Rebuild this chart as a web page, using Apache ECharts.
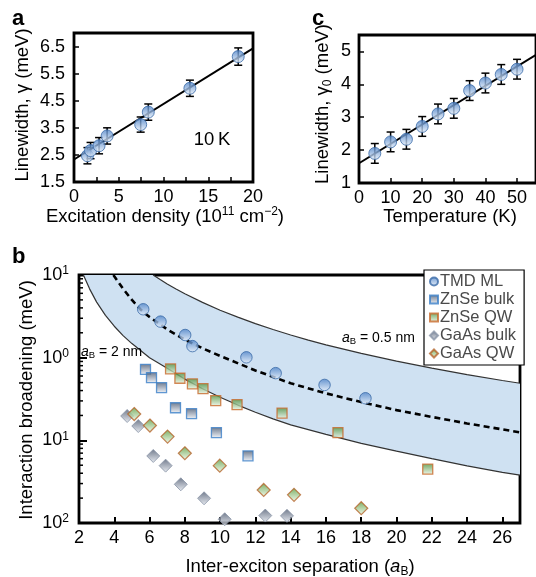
<!DOCTYPE html>
<html><head><meta charset="utf-8">
<script src="https://cdn.jsdelivr.net/npm/echarts@6/dist/echarts.min.js"></script>
<style>html,body{margin:0;padding:0;background:#fff}#c{width:536px;height:577px}</style>
</head><body><div id="c"></div>
<script>
// ---------- Panel a ----------
const densityA = [1.5, 1.85, 2.8, 3.7, 7.45, 8.3, 12.95, 18.35];
const linewidthA = [2.47, 2.66, 2.84, 3.2, 3.62, 4.08, 4.96, 6.13];
const errA = [0.3, 0.3, 0.3, 0.3, 0.28, 0.3, 0.3, 0.32];
const fitAx = [0, 20];
const fitAy = [2.33, 6.43];
const ticksAy = [1.5, 2.5, 3.5, 4.5, 5.5, 6.5];

// ---------- Panel c ----------
const tempC = [5, 10, 15, 20, 25, 30, 35, 40, 45, 50];
const linewidthC = [1.9, 2.25, 2.33, 2.72, 3.1, 3.27, 3.81, 4.04, 4.3, 4.46];
const errC = [0.3, 0.3, 0.3, 0.3, 0.3, 0.3, 0.3, 0.3, 0.3, 0.3];
const fitCx = [0, 56];
const fitCy = [1.6, 4.9];

// ---------- Panel b ----------
const tmdX = [5.64, 6.62, 8.02, 8.43, 11.49, 13.15, 15.92, 18.24];
const tmdY = [3.85, 2.73, 1.88, 1.38, 1.01, 0.65, 0.468, 0.323];
const znseBulkX = [5.77, 6.11, 6.68, 7.47, 8.38, 9.79, 11.58];
const znseBulkY = [0.72, 0.573, 0.434, 0.248, 0.21, 0.124, 0.0647];
const znseQwX = [7.19, 7.72, 8.43, 9.03, 9.75, 10.96, 13.51, 16.68, 21.77];
const znseQwY = [0.73, 0.564, 0.481, 0.422, 0.302, 0.27, 0.213, 0.124, 0.0448];
const gaasBulkX = [4.73, 5.36, 6.21, 6.91, 7.77, 9.09, 10.26, 12.56, 13.79];
const gaasBulkY = [0.197, 0.149, 0.0647, 0.0494, 0.0294, 0.0199, 0.0111, 0.0123, 0.0122];
const gaasQwX = [5.13, 6.02, 7.02, 8.0, 9.98, 12.47, 14.19, 18.0];
const gaasQwY = [0.208, 0.151, 0.111, 0.0698, 0.0494, 0.0251, 0.0219, 0.0151];

const upperX = [6.2, 6.6, 7, 7.5, 8, 9, 10, 11, 12, 13, 14, 15, 16, 18, 20, 22, 24, 26, 27];
const upperY = [10, 8.8, 7.8, 6.77, 5.93, 4.66, 3.75, 3.09, 2.58, 2.19, 1.88, 1.63, 1.43, 1.125, 0.906, 0.746, 0.624, 0.529, 0.49];
const lowerX = [2.25, 2.6, 3, 3.5, 4, 4.5, 5, 6, 7, 8, 9, 10, 11, 12, 13, 14, 16, 18, 20, 22, 24, 26, 27];
const lowerY = [10, 6.8, 4.7, 3.25, 2.4, 1.85, 1.48, 1.0, 0.745, 0.55, 0.42, 0.332, 0.267, 0.219, 0.182, 0.154, 0.118, 0.092, 0.074, 0.06, 0.049, 0.041, 0.038];
const dashX = [3.95, 4.5, 5, 5.5, 6, 7, 8, 9, 10, 12, 14, 16, 18, 20, 22, 24, 27];
const dashY = [10, 6.8, 5.0, 3.8, 3.1, 2.2, 1.65, 1.3, 1.05, 0.7, 0.49, 0.37, 0.29, 0.232, 0.192, 0.16, 0.125];

const F = "'Liberation Sans', Arial, Helvetica, sans-serif";
const TS = 18.5; // title font size
const zip = (xs, ys) => xs.map((x, i) => [x, ys[i]]);
const grad = (t, b) => new echarts.graphic.LinearGradient(0, 0, 0, 1, [{offset: 0, color: t}, {offset: 1, color: b}]);

function errSeries(xs, ys, es, idx) {
  return {
    type: 'custom', xAxisIndex: idx, yAxisIndex: idx, z: 3, silent: true,
    data: xs.map((x, i) => [x, ys[i] - es[i], ys[i] + es[i]]),
    encode: {x: 0, y: [1, 2]},
    renderItem(params, api) {
      const x = api.value(0);
      const lo = api.coord([x, api.value(1)]);
      const hi = api.coord([x, api.value(2)]);
      const w = 4, st = {stroke: '#000', lineWidth: 1.5};
      return {type: 'group', children: [
        {type: 'line', shape: {x1: lo[0], y1: lo[1], x2: hi[0], y2: hi[1]}, style: st},
        {type: 'line', shape: {x1: lo[0] - w, y1: lo[1], x2: lo[0] + w, y2: lo[1]}, style: st},
        {type: 'line', shape: {x1: hi[0] - w, y1: hi[1], x2: hi[0] + w, y2: hi[1]}, style: st}
      ]};
    }
  };
}

const circleStyle = {color: grad('#4a80c6', '#e6effa'), borderColor: '#3a6aa8', borderWidth: 1};
const labelStyle = {color: '#000', fontSize: 18, fontFamily: F};
const tickStyle = {show: true, inside: true, length: 5, lineStyle: {color: '#000', width: 1.5}};
const gridBorder = {show: true, borderColor: '#000', borderWidth: 2.8, backgroundColor: 'transparent'};

const minorVals = [];
[0.01, 0.1, 1].forEach(d => { for (let k = 2; k <= 9; k++) minorVals.push(+(d * k).toPrecision(3)); });

const supRich = {s: {fontSize: 12, fontFamily: F, fill: '#000', verticalAlign: 'top', lineHeight: 12}};
const subRich = {i: {fontSize: TS, fontStyle: 'italic', fontFamily: F, fill: '#000'}, b: {fontSize: 12, fontFamily: F, fill: '#000', verticalAlign: 'bottom', lineHeight: 12}};
const smallRich = {i: {fontSize: 14, fontStyle: 'italic', fontFamily: F, fill: '#000'}, b: {fontSize: 9.5, fontFamily: F, fill: '#000', verticalAlign: 'bottom', lineHeight: 10}};

const chart = echarts.init(document.getElementById('c'));
chart.setOption({
  animation: false,
  backgroundColor: '#fff',
  grid: [
    Object.assign({left: 74, top: 33, width: 179, height: 149}, gridBorder),
    Object.assign({left: 359, top: 35, width: 181, height: 148}, gridBorder),
    Object.assign({left: 79, top: 275, width: 441, height: 248}, gridBorder)
  ],
  xAxis: [
    {gridIndex: 0, type: 'value', min: 0, max: 20, interval: 2.5, axisLine: {show: false}, splitLine: {show: false},
     axisTick: tickStyle,
     axisLabel: Object.assign({margin: 6, formatter: v => (v % 5 === 0 ? String(v) : '')}, labelStyle)},
    {gridIndex: 1, type: 'value', min: 0, max: 56, interval: 10, axisLine: {show: false}, splitLine: {show: false},
     axisTick: tickStyle,
     axisLabel: Object.assign({margin: 6, showMaxLabel: false}, labelStyle)},
    {gridIndex: 2, type: 'value', min: 2, max: 27, interval: 2, axisLine: {show: false}, splitLine: {show: false},
     axisTick: {show: true, inside: true, length: 6, lineStyle: {color: '#000', width: 2}},
     axisLabel: Object.assign({margin: 6, showMaxLabel: false}, labelStyle)}
  ],
  yAxis: [
    {gridIndex: 0, type: 'value', min: 1.5, max: 7, interval: 0.5, axisLine: {show: false}, splitLine: {show: false},
     axisTick: Object.assign({customValues: ticksAy}, tickStyle),
     axisLabel: Object.assign({margin: 9, customValues: ticksAy, formatter: v => v.toFixed(1)}, labelStyle)},
    {gridIndex: 1, type: 'value', min: 1, max: 5.5, interval: 1, axisLine: {show: false}, splitLine: {show: false},
     axisTick: tickStyle,
     axisLabel: Object.assign({margin: 8, showMaxLabel: false}, labelStyle)},
    {gridIndex: 2, type: 'log', logBase: 10, min: 0.01, max: 10, axisLine: {show: false}, splitLine: {show: false},
     axisTick: {show: true, inside: true, length: 8, lineStyle: {color: '#000', width: 2}},
     axisLabel: Object.assign({margin: 10, lineHeight: 20,
       formatter: v => '10{s|' + Math.abs(Math.round(Math.log10(v))) + '}',
       rich: {s: {fontSize: 12, fontFamily: F, color: '#000', verticalAlign: 'top', lineHeight: 12}}}, labelStyle)}
  ],
  legend: {
    left: 424, top: 270, orient: 'vertical', itemWidth: 8, itemHeight: 8, itemGap: 1,
    padding: [3, 8, 3, 5], borderColor: '#000', borderWidth: 1.2, backgroundColor: '#fff', z: 20,
    textStyle: {fontSize: 16.5, color: '#4a4a4a', fontFamily: F, padding: [0, 0, 0, -3]},
    data: [
      {name: 'TMD ML', icon: 'circle'},
      {name: 'ZnSe bulk', icon: 'rect'},
      {name: 'ZnSe QW', icon: 'rect'},
      {name: 'GaAs bulk', icon: 'diamond'},
      {name: 'GaAs QW', icon: 'diamond'}
    ]
  },
  graphic: [
    {type: 'text', x: 12, y: 19, style: {text: 'a', font: 'bold 22px ' + F, fill: '#000', verticalAlign: 'middle'}},
    {type: 'text', x: 312, y: 19, style: {text: 'c', font: 'bold 22px ' + F, fill: '#000', verticalAlign: 'middle'}},
    {type: 'text', x: 12, y: 257, style: {text: 'b', font: 'bold 22px ' + F, fill: '#000', verticalAlign: 'middle'}},
    {type: 'text', x: 212, y: 140, style: {text: '10\u2009K', font: TS + 'px ' + F, fill: '#000', align: 'center', verticalAlign: 'middle'}},
    {type: 'text', x: 23, y: 105, rotation: Math.PI / 2,
     style: {text: 'Linewidth, \u03b3 (meV)', font: TS + 'px ' + F, fill: '#000', align: 'center', verticalAlign: 'middle'}},
    {type: 'text', x: 165, y: 217,
     style: {text: 'Excitation density (10{s|11} cm{s|\u22122})', font: TS + 'px ' + F, fontSize: TS, fontFamily: F, fill: '#000', align: 'center', verticalAlign: 'middle', lineHeight: 22,
       rich: supRich}},
    {type: 'text', x: 323, y: 104, rotation: Math.PI / 2,
     style: {text: 'Linewidth, \u03b3{b|0} (meV)', font: TS + 'px ' + F, fontSize: TS, fontFamily: F, fill: '#000', align: 'center', verticalAlign: 'middle', lineHeight: 22,
       rich: subRich}},
    {type: 'text', x: 450, y: 217, style: {text: 'Temperature (K)', font: TS + 'px ' + F, fill: '#000', align: 'center', verticalAlign: 'middle'}},
    {type: 'text', x: 27, y: 400, rotation: Math.PI / 2,
     style: {text: 'Interaction broadening (meV)', font: TS + 'px ' + F, fill: '#000', align: 'center', verticalAlign: 'middle'}},
    {type: 'text', x: 300, y: 567,
     style: {text: 'Inter-exciton separation ({i|a}{b|B})', font: TS + 'px ' + F, fontSize: TS, fontFamily: F, fill: '#000', align: 'center', verticalAlign: 'middle', lineHeight: 22,
       rich: subRich}},
    {type: 'text', x: 81, y: 352, z: 10,
     style: {text: '{i|a}{b|B} = 2 nm', font: '14px ' + F, fontSize: 14, fontFamily: F, fill: '#000', verticalAlign: 'middle', lineHeight: 16,
       rich: smallRich}},
    {type: 'text', x: 342, y: 338, z: 10,
     style: {text: '{i|a}{b|B} = 0.5 nm', font: '14px ' + F, fontSize: 14, fontFamily: F, fill: '#000', verticalAlign: 'middle', lineHeight: 16,
       rich: smallRich}}
  ],
  series: [
    // Panel a
    {type: 'line', xAxisIndex: 0, yAxisIndex: 0, data: zip(fitAx, fitAy), symbol: 'none', z: 2, silent: true,
     lineStyle: {color: '#000', width: 2}},
    errSeries(densityA, linewidthA, errA, 0),
    {type: 'scatter', xAxisIndex: 0, yAxisIndex: 0, data: zip(densityA, linewidthA), symbolSize: 12, z: 4, itemStyle: circleStyle},
    // Panel c
    {type: 'line', xAxisIndex: 1, yAxisIndex: 1, data: zip(fitCx, fitCy), symbol: 'none', z: 2, silent: true,
     lineStyle: {color: '#000', width: 2}},
    errSeries(tempC, linewidthC, errC, 1),
    {type: 'scatter', xAxisIndex: 1, yAxisIndex: 1, data: zip(tempC, linewidthC), symbolSize: 12, z: 4, itemStyle: circleStyle},
    // Panel b band
    {type: 'custom', xAxisIndex: 2, yAxisIndex: 2, z: 1, silent: true, data: [[10, 1]],
     renderItem(params, api) {
       const pts = [];
       upperX.forEach((x, i) => pts.push(api.coord([x, upperY[i]])));
       for (let i = lowerX.length - 1; i >= 0; i--) pts.push(api.coord([lowerX[i], lowerY[i]]));
       return {type: 'polygon', shape: {points: pts}, style: {fill: '#cfe1f2'}};
     }},
    {type: 'line', xAxisIndex: 2, yAxisIndex: 2, data: zip(upperX, upperY), symbol: 'none', z: 2, silent: true,
     lineStyle: {color: '#333', width: 1.2}},
    {type: 'line', xAxisIndex: 2, yAxisIndex: 2, data: zip(lowerX, lowerY), symbol: 'none', z: 2, silent: true,
     lineStyle: {color: '#333', width: 1.2}},
    {type: 'line', xAxisIndex: 2, yAxisIndex: 2, data: zip(dashX, dashY), symbol: 'none', z: 3, silent: true,
     lineStyle: {color: '#000', width: 2.6, type: [6, 4]}},
    // minor ticks on log axis
    {type: 'custom', xAxisIndex: 2, yAxisIndex: 2, z: 5, silent: true, data: minorVals.map(v => [2, v]),
     renderItem(params, api) {
       const p = api.coord([2, api.value(1)]);
       return {type: 'line', shape: {x1: p[0], y1: p[1], x2: p[0] + 4, y2: p[1]}, style: {stroke: '#000', lineWidth: 1.5}};
     }},
    {name: 'GaAs bulk', type: 'scatter', xAxisIndex: 2, yAxisIndex: 2, data: zip(gaasBulkX, gaasBulkY), symbol: 'diamond', symbolSize: 13, z: 4,
     itemStyle: {color: grad('#4c586e', '#e4e8ef'), borderColor: '#8893a6', borderWidth: 1}},
    {name: 'GaAs QW', type: 'scatter', xAxisIndex: 2, yAxisIndex: 2, data: zip(gaasQwX, gaasQwY), symbol: 'diamond', symbolSize: 13, z: 5,
     itemStyle: {color: grad('#5a9a3e', '#eef8e6'), borderColor: '#b5652c', borderWidth: 1.2}},
    {name: 'ZnSe bulk', type: 'scatter', xAxisIndex: 2, yAxisIndex: 2, data: zip(znseBulkX, znseBulkY), symbol: 'rect', symbolSize: 10, z: 5,
     itemStyle: {color: grad('#46566f', '#f2f5fa'), borderColor: '#3b7fc8', borderWidth: 1.3}},
    {name: 'ZnSe QW', type: 'scatter', xAxisIndex: 2, yAxisIndex: 2, data: zip(znseQwX, znseQwY), symbol: 'rect', symbolSize: 10, z: 6,
     itemStyle: {color: grad('#4d8f3a', '#eef7e8'), borderColor: '#c8692a', borderWidth: 1.3}},
    {name: 'TMD ML', type: 'scatter', xAxisIndex: 2, yAxisIndex: 2, data: zip(tmdX, tmdY), symbolSize: 11.5, z: 6,
     itemStyle: circleStyle}
  ]
});
</script>
</body></html>
